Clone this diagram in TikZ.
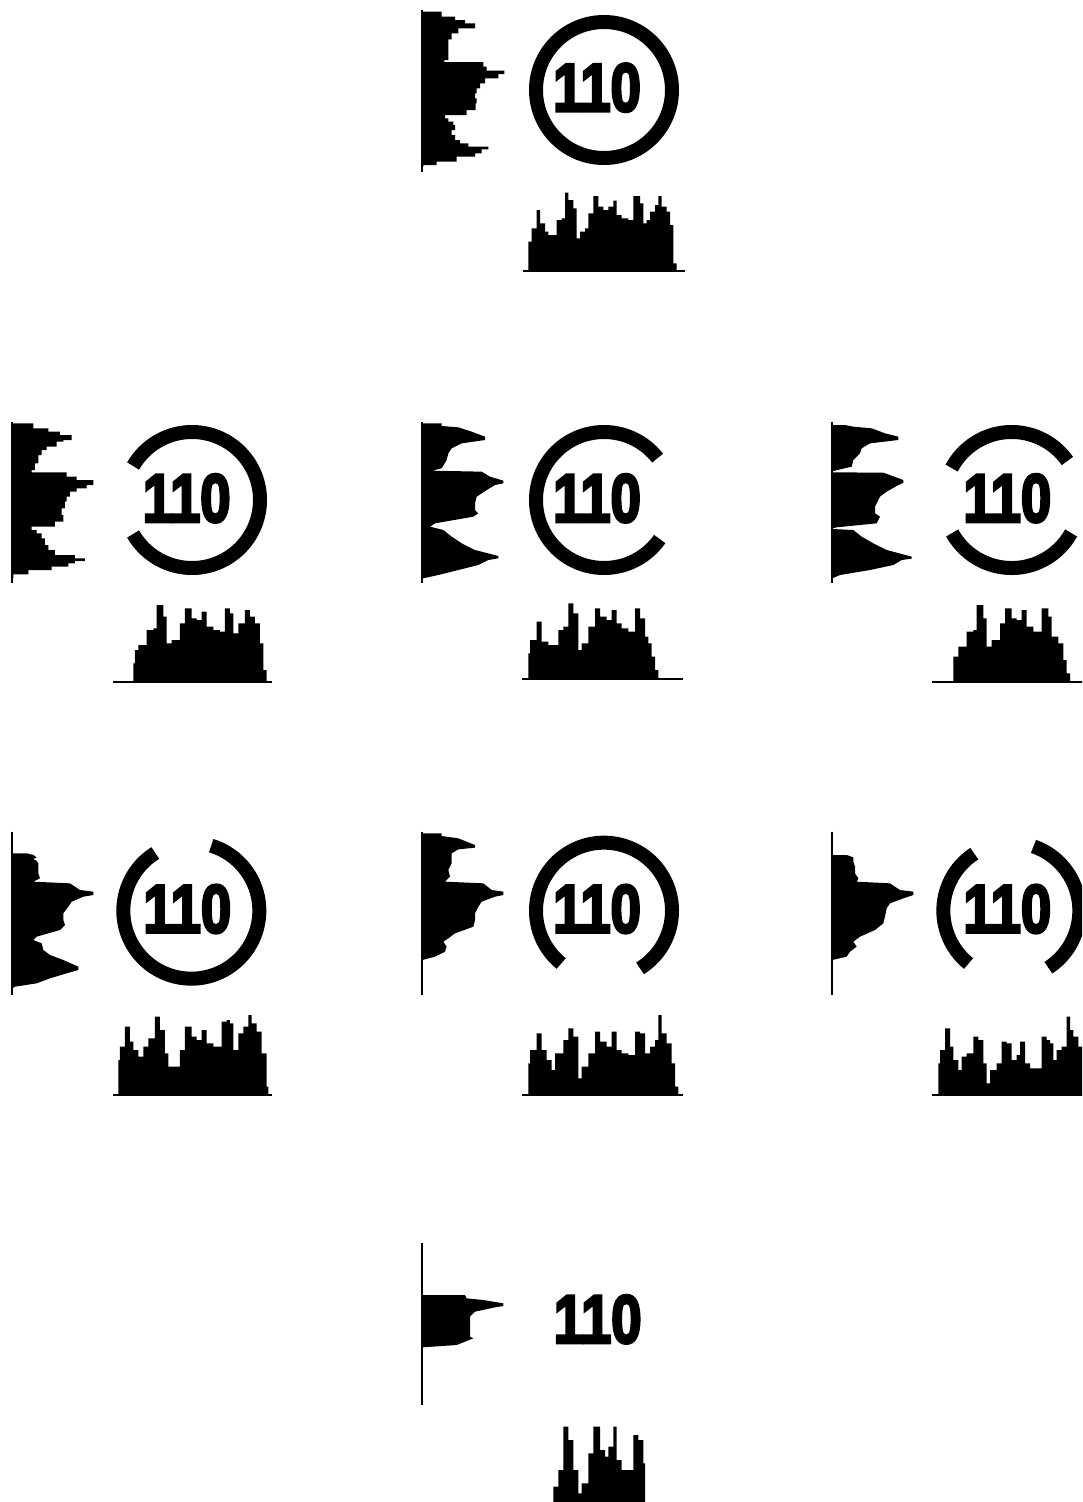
\documentclass[tikz,border=0pt]{standalone}
\usepackage{fontspec}
\usepackage{graphicx}
\newfontfamily\signfont{Liberation Sans}[UprightFont={* Bold}, FakeBold=4.5]
\tikzset{
 histfill/.style={fill=black},
 axisline/.style={draw=black, line width=1.8pt},
 ringline/.style={draw=black, line width=14pt},
 signtext/.style={inner sep=0pt, font=\signfont\fontsize{68}{68}\selectfont},
}
\newcommand\sgnarc[4]{\begin{scope}[shift={(#1,#2)},yscale=-1]\draw[ringline] (#3:204) arc[start angle=#3,end angle=#4,radius=204];\end{scope}}
\newcommand\sgntext[3]{\node[signtext] (#1) at (#2,#3) {\scalebox{0.8}[1]{110}};}
\begin{document}
\begin{tikzpicture}[x=1pt,y=-1pt]
\useasboundingbox (0,0) rectangle (1082,1502);
\clip (0,0) rectangle (1082,1502);
\fill[white] (0,0) rectangle (1082,1502);

% ---------- top panel ----------
\begin{scope}[shift={(415,0)},scale=1/3]
\draw[axisline] (22,30) -- (22,515);
\fill[histfill] (22,35) \foreach \a/\b/\c in {35/50/80, 50/60/120, 60/70/150, 70/85/180, 85/100/130, 100/118/110, 118/165/100, 165/180/100, 180/186/88, 186/200/205, 200/212/215, 212/222/268, 222/235/250, 235/250/210, 250/265/195, 265/280/185, 280/295/180, 295/310/185, 310/330/182, 330/345/155, 345/355/90, 355/365/100, 365/375/115, 375/390/120, 390/405/110, 405/420/120, 420/430/135, 430/440/160, 440/448/220, 448/460/200, 460/470/180, 470/485/125, 485/495/65, 495/500/25} { -- (\c,\a) -- (\c,\b) } -- (22,500) -- cycle;
\draw[axisline] (325,812) -- (810,812);
\fill[histfill] (340,812) \foreach \a/\b/\c in {340/350/725, 350/365/685, 365/375/630, 375/390/670, 390/400/695, 400/425/705, 425/440/660, 440/450/655, 450/460/578, 460/475/600, 475/485/625, 485/495/715, 495/510/695, 510/520/685, 520/535/640, 535/550/588, 550/565/620, 565/580/630, 580/595/620, 595/605/602, 605/620/645, 620/640/655, 640/655/660, 655/675/588, 675/685/610, 685/695/670, 695/705/660, 705/720/635, 720/730/615, 730/740/588, 740/755/620, 755/765/635, 765/775/675, 775/785/790} { -- (\a,\c) -- (\b,\c) } -- (785,812) -- cycle;
\draw[ringline] (567,270) circle[radius=204];
\sgntext{t1}{546}{263}
\end{scope}

% ---------- row 2, col 1 ----------
\begin{scope}[shift={(0,410)},scale=1/3]
\draw[axisline] (37,35) -- (37,520);
\fill[histfill] (37,40) \foreach \a/\b/\c in {40/55/100, 55/65/145, 65/75/180, 75/90/215, 90/95/190, 95/110/170, 110/120/140, 120/135/125, 135/160/115, 160/180/105, 180/187/95, 187/200/200, 200/210/230, 210/225/280, 225/235/260, 235/245/230, 245/260/210, 260/275/200, 275/295/195, 295/315/185, 315/335/190, 335/350/165, 350/360/95, 360/370/110, 370/385/125, 385/405/135, 405/420/145, 420/435/165, 435/445/225, 445/453/255, 453/460/225, 460/470/205, 470/480/155, 480/493/85, 493/505/40} { -- (\c,\a) -- (\c,\b) } -- (37,505) -- cycle;
\draw[axisline] (340,815) -- (815,815);
\fill[histfill] (400,815) \foreach \a/\b/\c in {400/405/760, 405/415/720, 415/440/705, 440/460/660, 460/470/655, 470/490/585, 490/500/620, 500/515/700, 515/540/690, 540/555/640, 555/575/595, 575/590/625, 590/605/630, 605/620/605, 620/640/650, 640/660/660, 660/675/665, 675/690/595, 690/700/610, 700/715/670, 715/735/640, 735/750/600, 750/765/620, 765/780/640, 780/790/700, 790/800/780} { -- (\a,\c) -- (\b,\c) } -- (800,815) -- cycle;
\sgnarc{576}{270}{-150}{150}
\sgntext{t2}{560}{265}
\end{scope}

% ---------- row 2, col 2 ----------
\begin{scope}[shift={(415,410)},scale=1/3]
\draw[axisline] (22,35) -- (22,520);
\fill[histfill] (22,40) -- (80,40) -- (80,48) -- (130,52) -- (170,65) -- (210,80) -- (210,90) -- (140,100) -- (110,115) -- (100,130) -- (95,150) -- (80,175) -- (50,182) -- (200,185) -- (225,200) -- (265,212) -- (265,220) -- (240,225) -- (215,240) -- (185,260) -- (180,280) -- (180,300) -- (190,310) -- (175,320) -- (60,340) -- (45,350) -- (85,360) -- (110,380) -- (140,400) -- (180,420) -- (250,438) -- (250,445) -- (220,450) -- (190,465) -- (130,480) -- (70,495) -- (25,505) -- (22,507) -- cycle;
\draw[axisline] (322,808) -- (805,808);
\fill[histfill] (340,808) \foreach \a/\b/\c in {340/345/730, 345/365/690, 365/380/635, 380/400/695, 400/430/705, 430/445/660, 445/460/650, 460/475/580, 475/490/610, 490/500/720, 500/520/700, 520/540/650, 540/555/595, 555/575/620, 575/590/630, 590/605/600, 605/620/640, 620/640/655, 640/660/665, 660/675/595, 675/690/625, 690/700/680, 700/710/700, 710/720/740, 720/730/780} { -- (\a,\c) -- (\b,\c) } -- (730,808) -- cycle;
\sgnarc{567}{270}{38}{325}
\sgntext{t3}{546}{265}
\end{scope}

% ---------- row 2, col 3 ----------
\begin{scope}[shift={(820,410)},scale=1/3]
\draw[axisline] (37,35) -- (37,520);
\fill[histfill] (37,45) -- (75,45) -- (100,50) -- (155,55) -- (195,70) -- (235,80) -- (235,90) -- (150,100) -- (125,115) -- (120,130) -- (100,150) -- (95,170) -- (40,183) -- (37,185) -- (37,187) -- (190,188) -- (250,210) -- (250,218) -- (230,228) -- (200,245) -- (180,260) -- (165,290) -- (165,310) -- (180,320) -- (170,340) -- (50,352) -- (37,355) -- (37,357) -- (100,360) -- (125,380) -- (160,400) -- (200,420) -- (275,440) -- (275,446) -- (245,450) -- (220,465) -- (150,480) -- (60,495) -- (37,505) -- cycle;
\draw[axisline] (335,815) -- (790,815);
\fill[histfill] (400,815) \foreach \a/\b/\c in {400/415/740, 415/440/710, 440/460/665, 460/470/660, 470/490/585, 490/500/625, 500/515/710, 515/540/690, 540/555/640, 555/575/595, 575/590/625, 590/605/630, 605/620/600, 620/640/650, 640/665/665, 665/685/595, 685/695/620, 695/715/680, 715/730/700, 730/740/750, 740/750/790} { -- (\a,\c) -- (\b,\c) } -- (750,815) -- cycle;
\sgnarc{575}{270}{35}{152}
\sgnarc{575}{270}{209}{331}
\sgntext{t4}{562}{265}
\end{scope}

% ---------- row 3, col 1 ----------
\begin{scope}[shift={(0,820)},scale=1/3]
\draw[axisline] (37,35) -- (37,525);
\fill[histfill] (37,100) -- (80,100) -- (100,105) -- (110,112) -- (100,118) -- (110,122) -- (115,130) -- (115,160) -- (120,175) -- (100,185) -- (210,190) -- (240,210) -- (280,215) -- (280,225) -- (250,230) -- (215,245) -- (205,260) -- (190,280) -- (190,300) -- (195,315) -- (180,330) -- (110,350) -- (100,360) -- (125,370) -- (130,390) -- (150,405) -- (190,420) -- (235,440) -- (235,450) -- (200,460) -- (150,475) -- (110,490) -- (45,500) -- (37,505) -- cycle;
\draw[axisline] (340,825) -- (815,825);
\fill[histfill] (355,825) \foreach \a/\b/\c in {355/360/720, 360/375/680, 375/390/620, 390/400/665, 400/415/690, 415/430/710, 430/445/680, 445/465/655, 465/480/590, 480/495/630, 495/505/700, 505/540/740, 540/555/690, 555/575/620, 575/590/650, 590/605/660, 605/620/630, 620/640/670, 640/665/680, 665/680/605, 680/690/600, 690/700/610, 700/715/690, 715/730/640, 730/745/620, 745/755/585, 755/770/610, 770/785/635, 785/800/700, 800/805/800} { -- (\a,\c) -- (\b,\c) } -- (805,825) -- cycle;
\sgnarc{574}{272}{122}{433}
\sgntext{t5}{562}{267}
\end{scope}

% ---------- row 3, col 2 ----------
\begin{scope}[shift={(415,820)},scale=1/3]
\draw[axisline] (22,35) -- (22,525);
\fill[histfill] (22,40) -- (80,40) -- (80,48) -- (130,55) -- (180,75) -- (180,83) -- (130,88) -- (110,100) -- (110,130) -- (100,150) -- (105,170) -- (90,185) -- (205,190) -- (230,210) -- (265,215) -- (265,225) -- (240,230) -- (200,245) -- (190,260) -- (180,280) -- (180,300) -- (175,320) -- (120,340) -- (100,355) -- (85,365) -- (95,380) -- (90,395) -- (60,410) -- (22,420) -- cycle;
\draw[axisline] (322,825) -- (805,825);
\fill[histfill] (340,825) \foreach \a/\b/\c in {340/345/730, 345/365/690, 365/380/640, 380/395/690, 395/410/720, 410/420/750, 420/445/700, 445/460/660, 460/475/625, 475/490/650, 490/500/775, 500/520/740, 520/540/700, 540/555/635, 555/575/665, 575/590/680, 590/605/635, 605/620/690, 620/640/700, 640/660/705, 660/675/635, 675/690/640, 690/705/700, 705/720/680, 720/730/660, 730/740/585, 740/755/640, 755/770/670, 770/780/730, 780/790/800} { -- (\a,\c) -- (\b,\c) } -- (790,825) -- cycle;
\sgnarc{567}{272}{-58}{231}
\sgntext{t6}{546}{267}
\end{scope}

% ---------- row 3, col 3 ----------
\begin{scope}[shift={(820,820)},scale=1/3]
\draw[axisline] (37,35) -- (37,525);
\fill[histfill] (37,105) -- (80,105) -- (100,112) -- (100,125) -- (105,140) -- (105,160) -- (115,175) -- (110,185) -- (210,190) -- (240,210) -- (280,215) -- (280,225) -- (250,235) -- (210,250) -- (200,265) -- (195,290) -- (190,310) -- (165,330) -- (120,350) -- (100,365) -- (110,380) -- (90,395) -- (80,410) -- (37,420) -- cycle;
\draw[axisline] (335,825) -- (800,825);
\fill[histfill] (355,825) \foreach \a/\b/\c in {355/360/730, 360/375/690, 375/390/625, 390/400/680, 400/415/720, 415/425/750, 425/440/710, 440/460/700, 460/475/650, 475/490/660, 490/500/730, 500/510/790, 510/530/750, 530/545/730, 545/560/665, 560/575/670, 575/590/720, 590/600/705, 600/615/665, 615/630/730, 630/665/745, 665/680/650, 680/690/660, 690/700/670, 700/710/720, 710/725/690, 725/740/680, 740/750/590, 750/760/630, 760/775/650, 775/800/680} { -- (\a,\c) -- (\b,\c) } -- (800,825) -- cycle;
\sgnarc{574}{272}{123}{231}
\sgnarc{574}{272}{-57}{71}
\sgntext{t7}{562}{267}
\end{scope}

% ---------- row 4 ----------
\begin{scope}[shift={(415,1230)},scale=1/3]
\draw[axisline] (22,40) -- (22,525);
\fill[histfill] (22,195) -- (150,195) -- (155,205) -- (205,210) -- (265,220) -- (265,228) -- (240,232) -- (180,245) -- (165,260) -- (165,290) -- (165,320) -- (175,325) -- (150,335) -- (125,345) -- (22,352) -- cycle;
\fill[histfill] (415,830) \foreach \a/\b/\c in {415/430/770, 430/445/720, 445/460/590, 460/475/630, 475/490/720, 490/500/790, 500/520/760, 520/535/670, 535/555/590, 555/570/660, 570/580/680, 580/595/650, 595/605/590, 605/620/690, 620/655/720, 655/670/615, 670/685/630, 685/690/700} { -- (\a,\c) -- (\b,\c) } -- (690,830) -- cycle;
\sgntext{t8}{548}{268}
\end{scope}
\end{tikzpicture}
\end{document}
